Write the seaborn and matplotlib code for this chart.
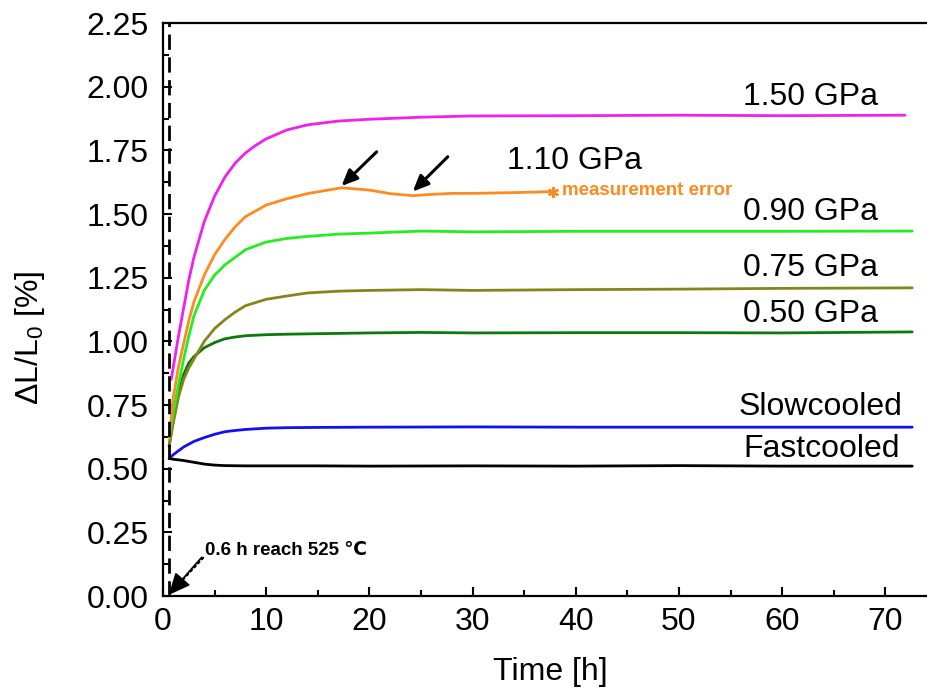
import numpy as np
import pandas as pd
import seaborn as sns
import matplotlib
matplotlib.use("Agg")
import matplotlib.pyplot as plt
from matplotlib.ticker import MultipleLocator

# ---- dilatometer curves: relative length change vs. annealing time ----
t_fast = [0.6, 1.0, 2.0, 3.0, 4.0, 5.0, 6.0, 8.0, 10, 15, 20, 30, 40, 50, 60, 72.6]
v_fast = [0.54, 0.537, 0.532, 0.525, 0.518, 0.514, 0.512, 0.511, 0.511, 0.511,
          0.510, 0.511, 0.510, 0.512, 0.510, 0.510]

t_slow = [0.6, 1.0, 1.5, 2.0, 3.0, 4.0, 5.0, 6.0, 7.0, 8.0, 10, 12, 15, 20, 30,
          40, 50, 60, 72.6]
v_slow = [0.54, 0.555, 0.57, 0.585, 0.607, 0.622, 0.635, 0.645, 0.65, 0.654,
          0.659, 0.661, 0.662, 0.663, 0.664, 0.663, 0.663, 0.663, 0.663]

t_050 = [0.6, 1.0, 1.5, 2.0, 2.5, 3.0, 4.0, 5.0, 6.0, 7.0, 8.0, 10, 12, 15, 20,
         25, 30, 40, 50, 60, 72.6]
v_050 = [0.59, 0.69, 0.80, 0.87, 0.915, 0.94, 0.975, 0.995, 1.01, 1.017, 1.022,
         1.026, 1.028, 1.03, 1.033, 1.035, 1.033, 1.034, 1.034, 1.033, 1.037]

t_075 = [0.6, 1.0, 1.5, 2.0, 2.5, 3.0, 4.0, 5.0, 6.0, 7.0, 8.0, 10, 12, 14, 17,
         20, 25, 30, 40, 50, 60, 72.6]
v_075 = [0.59, 0.68, 0.78, 0.85, 0.895, 0.93, 1.0, 1.05, 1.085, 1.115, 1.14,
         1.165, 1.178, 1.19, 1.197, 1.2, 1.203, 1.2, 1.203, 1.205, 1.208, 1.21]

t_090 = [0.6, 1.0, 1.5, 2.0, 2.5, 3.0, 4.0, 5.0, 6.0, 7.0, 8.0, 10, 12, 14, 17,
         20, 25, 30, 40, 50, 60, 72.6]
v_090 = [0.62, 0.72, 0.83, 0.93, 1.02, 1.10, 1.20, 1.26, 1.30, 1.33, 1.36, 1.39,
         1.404, 1.412, 1.421, 1.425, 1.433, 1.43, 1.432, 1.432, 1.432, 1.433]

t_110 = [0.6, 1.0, 1.5, 2.0, 2.5, 3.0, 4.0, 5.0, 6.0, 7.0, 8.0, 10, 12, 14, 17.3,
         20, 22, 24.2, 26, 28, 30, 34, 37.8]
v_110 = [0.62, 0.78, 0.90, 0.99, 1.08, 1.155, 1.26, 1.34, 1.40, 1.45, 1.49,
         1.535, 1.56, 1.58, 1.603, 1.594, 1.58, 1.572, 1.577, 1.581, 1.581,
         1.584, 1.588]

t_150 = [0.8, 1.5, 2.0, 2.5, 3.0, 4.0, 5.0, 6.0, 7.0, 8.0, 9.0, 10, 12, 14, 17,
         20, 25, 30, 40, 50, 60, 71.9]
v_150 = [0.85, 1.02, 1.13, 1.24, 1.33, 1.47, 1.57, 1.645, 1.70, 1.74, 1.77,
         1.795, 1.83, 1.85, 1.865, 1.872, 1.88, 1.885, 1.886, 1.888, 1.886, 1.888]

series_names = ["Fastcooled", "Slowcooled", "0.50 GPa", "0.75 GPa",
                "0.90 GPa", "1.10 GPa", "1.50 GPa"]
series_t = [t_fast, t_slow, t_050, t_075, t_090, t_110, t_150]
series_v = [v_fast, v_slow, v_050, v_075, v_090, v_110, v_150]
series_colors = ["#000000", "#1010F0", "#0A7A0A", "#85851A", "#22EE22",
                 "#FF8A1E", "#F020F0"]

# curve labels: (text, x, y, horizontal alignment)
curve_labels = [("1.50 GPa", 62.7, 1.96, "center"),
                ("1.10 GPa", 39.9, 1.71, "center"),
                ("0.90 GPa", 62.7, 1.508, "center"),
                ("0.75 GPa", 62.7, 1.288, "center"),
                ("0.50 GPa", 62.7, 1.107, "center"),
                ("Slowcooled", 71.6, 0.742, "right"),
                ("Fastcooled", 71.4, 0.577, "right")]

heating_end = 0.6  # h, furnace reaches 525 °C

frames = [pd.DataFrame({"Time": t, "dL": v, "series": n})
          for n, t, v in zip(series_names, series_t, series_v)]
df = pd.concat(frames, ignore_index=True)

sns.set_theme(style="ticks")
plt.rcParams["font.family"] = ["Liberation Sans", "DejaVu Sans"]
plt.rcParams["mathtext.fontset"] = "custom"
plt.rcParams["mathtext.rm"] = "Liberation Sans"
plt.rcParams["mathtext.it"] = "Liberation Sans:italic"
plt.rcParams["mathtext.bf"] = "Liberation Sans:bold"
plt.rcParams["mathtext.default"] = "regular"
for key in ["text.color", "axes.labelcolor", "xtick.color", "ytick.color",
            "axes.edgecolor"]:
    plt.rcParams[key] = "black"

fig = plt.figure(figsize=(9.27, 6.97), dpi=100)
ax = fig.add_axes([0.1758, 0.1449, 0.8350, 0.8221])

sns.lineplot(data=df, x="Time", y="dL", hue="series",
             palette=dict(zip(series_names, series_colors)),
             estimator=None, sort=False, legend=False, linewidth=2.0, ax=ax)

# asterisk at the last valid point of the 1.10 GPa run
ax.plot(t_110[-1], v_110[-1], marker=(6, 2, 0), markersize=8,
        markeredgewidth=1.6, color="#FF8A1E", linestyle="none")
ax.text(t_110[-1] + 0.9, v_110[-1] + 0.005, "measurement error",
        color="#FF8A1E", fontsize=13.5, fontweight="bold", va="center",
        ha="left")

# arrows marking the maximum and the dip
for (x0, y0), (x1, y1) in [((20.7, 1.744), (17.3, 1.610)),
                           ((27.6, 1.725), (24.2, 1.588))]:
    ax.annotate("", xy=(x1, y1), xytext=(x0, y0),
                arrowprops=dict(arrowstyle="-|>,head_length=0.8,head_width=0.35",
                                color="black", lw=2.2,
                                shrinkA=0, shrinkB=0))

for text, x, y, ha in curve_labels:
    ax.text(x, y, text, fontsize=23, ha=ha, va="center", color="black")

# end of heating ramp
ax.axvline(heating_end, color="black", linewidth=2.0, dashes=(5.5, 2.7))
ax.annotate("", xy=(heating_end - 0.05, 0.004), xytext=(3.9, 0.15),
            arrowprops=dict(arrowstyle="-", color="black", lw=1.5,
                            linestyle=":", shrinkA=0, shrinkB=6))
ax.annotate("0.6 h reach 525 ℃", xy=(heating_end - 0.05, 0.004),
            xytext=(4.07, 0.18), fontsize=13.5, fontweight="bold",
            color="black", family=["Liberation Sans", "DejaVu Sans"],
            ha="left", va="center",
            arrowprops=dict(arrowstyle="-|>,head_length=1.0,head_width=0.45",
                            color="black", lw=1.2, shrinkA=40, shrinkB=0,
                            relpos=(0.0, 0.3)))

ax.set_xlim(0, 75)
ax.set_ylim(0, 2.25)
ax.xaxis.set_major_locator(MultipleLocator(10))
ax.xaxis.set_minor_locator(MultipleLocator(5))
ax.yaxis.set_major_locator(MultipleLocator(0.25))
ax.yaxis.set_minor_locator(MultipleLocator(0.125))
ax.yaxis.set_major_formatter(plt.FormatStrFormatter("%.2f"))

for side in ["left", "bottom", "top", "right"]:
    ax.spines[side].set_linewidth(1.6)
    ax.spines[side].set_color("black")

ax.tick_params(which="both", direction="in", top=False, right=False,
               width=1.5, colors="black", labelsize=23)
ax.tick_params(which="major", length=6.5)
ax.tick_params(which="minor", length=4)
ax.tick_params(axis="y", which="major", pad=10.5)
ax.tick_params(axis="x", which="major", pad=8)

ax.set_xlabel("Time [h]", fontsize=23, labelpad=14, color="black")
ax.set_ylabel("ΔL/L$_0$ [%]", fontsize=23, color="black")
ax.yaxis.set_label_coords(-0.150, 0.45)

fig.savefig("out.png", dpi=100)
